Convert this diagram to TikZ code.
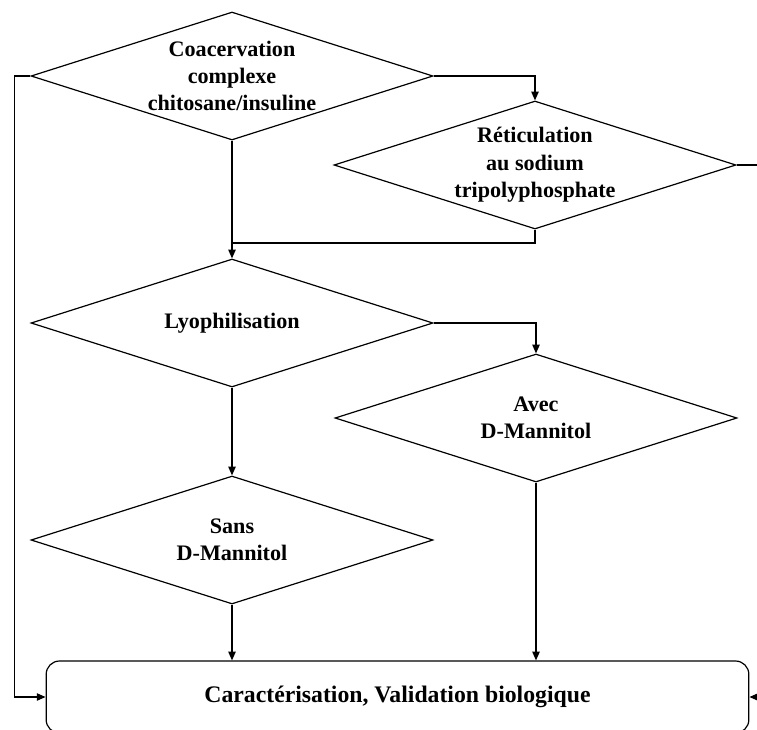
\documentclass[tikz,border=0pt]{standalone}
\usepackage{fontspec}
\setmainfont{Liberation Serif}
\usetikzlibrary{arrows.meta,shapes.geometric}

\begin{document}
\begin{tikzpicture}[x=0.75pt,y=-0.75pt, every node/.style={font=\fontsize{16.6}{20.5}\selectfont\bfseries}, dia/.style={draw,diamond,aspect=3.15,inner sep=0pt,align=center,minimum width=301.5pt,minimum height=96pt,line width=0.9pt}, rbox/.style={draw,rounded corners=10pt,align=center,minimum width=527pt,minimum height=54pt,line width=0.9pt,font=\fontsize{17.8}{21}\selectfont\bfseries}, arr/.style={-{Triangle[length=6.5pt,width=5.5pt]},line width=0.9pt}, ln/.style={line width=0.9pt}]
\path[use as bounding box,clip] (0,0) rectangle (757,729);
\node[dia] (coac) at (232,76) {Coacervation\\complexe\\chitosane/insuline};
\node[dia] (retic) at (535,165) {Réticulation\\au sodium\\tripolyphosphate};
\node[dia] (lyo) at (232,323) {Lyophilisation};
\node[dia] (avec) at (536,418) {Avec\\D-Mannitol};
\node[dia] (sans) at (232,540) {Sans\\D-Mannitol};
\node[rbox] (carac) at (397.5,697) {Caractérisation, Validation biologique};
\coordinate (join) at (232,243);
\draw[arr] (coac.east) -| (retic.north);
\draw[arr] (coac.south) -- (lyo.north);
\draw[ln] (retic.south) |- (join);
\draw[arr] (coac.west) -- ++(-16,0) |- (carac.west);
\draw[arr] (retic.east) -- ++(30,0) |- (carac.east);
\draw[arr] (lyo.east) -| (avec.north);
\draw[arr] (lyo.south) -- (sans.north);
\draw[arr] (sans.south) -- (sans.south |- carac.north);
\draw[arr] (avec.south) -- (avec.south |- carac.north);
\end{tikzpicture}
\end{document}
